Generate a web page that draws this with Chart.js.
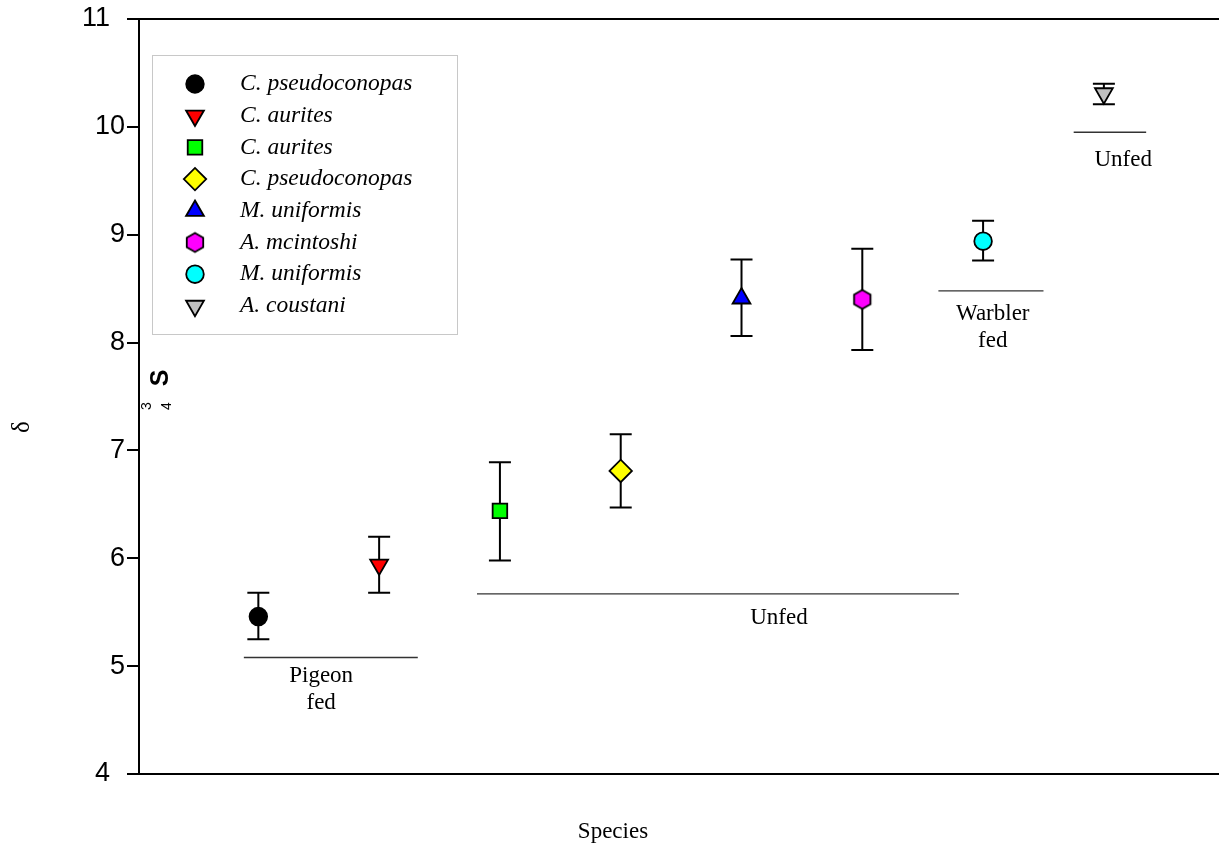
<!DOCTYPE html>
<html>
<head>
<meta charset="utf-8">
<script src="https://cdn.jsdelivr.net/npm/chart.js@4.4.1/dist/chart.umd.min.js"></script>
<style>
  html, body { margin: 0; padding: 0; background: #fff; }
  #wrap { width: 1219px; height: 847px; }
</style>
</head>
<body>
<div id="wrap"><canvas id="isoChart" width="1219" height="847"></canvas></div>
<script>
// values (delta 34S per species)
const species = ['C. pseudoconopas', 'C. aurites', 'C. aurites', 'C. pseudoconopas',
                 'M. uniformis', 'A. mcintoshi', 'M. uniformis', 'A. coustani'];
const positions = [1, 2, 3, 4, 5, 6, 7, 8];
const means = [5.46, 5.94, 6.44, 6.81, 8.41, 8.40, 8.94, 10.31];
const lows  = [5.25, 5.68, 5.98, 6.47, 8.06, 7.93, 8.76, 10.21];
const highs = [5.68, 6.20, 6.89, 7.15, 8.77, 8.87, 9.13, 10.40];
const yTicks = [4, 5, 6, 7, 8, 9, 10, 11];

// feeding groups: bracket line + label
const groupNames = [['Pigeon', 'fed'], ['Unfed'], ['Warbler', 'fed'], ['Unfed']];
const groupStart = [0.88, 2.81, 6.63, 7.75];
const groupEnd   = [2.32, 6.80, 7.50, 8.35];
const groupLevel = [5.08, 5.67, 8.48, 9.95];
const groupLabelX = [1.52, 5.31, 7.08, 8.16];
const groupLabelY = [4.78, 5.45, 8.14, 9.69];

// marker styles
function makeHexagon(r, fill) {
    const c = document.createElement('canvas');
    c.width = 26; c.height = 26;
    const g = c.getContext('2d');
    g.beginPath();
    for (let i = 0; i < 6; i++) {
        const a = Math.PI / 2 + i * Math.PI / 3;
        const px = 13 + r * Math.cos(a), py = 13 - r * Math.sin(a);
        if (i === 0) g.moveTo(px, py); else g.lineTo(px, py);
    }
    g.closePath();
    g.fillStyle = fill;
    g.fill();
    g.lineWidth = 1.8;
    g.strokeStyle = '#000';
    g.stroke();
    return c;
}
const hexMarker = makeHexagon(9.5, '#ff00ff');
const markerStyles = ['circle', 'triangle', 'rect', 'rectRot', 'triangle', hexMarker, 'circle', 'triangle'];
const markerRotation = [0, 180, 0, 0, 0, 0, 0, 180];
const markerColors = ['#000000', '#ff0000', '#00ff00', '#ffff00', '#0000ff', '#ff00ff', '#00ffff', '#c0c0c0'];
const markerRadius = [8.8, 10.3, 10.3, 11.2, 10.3, 9.5, 8.8, 10.3];

const serif = "'Liberation Serif', 'Times New Roman', serif";
const sans = "'Liberation Sans', Arial, sans-serif";

const pointSets = species.map((name, i) => ({
    label: name,
    data: [{ x: positions[i], y: means[i] }],
    pointStyle: markerStyles[i],
    rotation: markerRotation[i],
    backgroundColor: markerColors[i],
    borderColor: '#000',
    borderWidth: 1.8,
    pointRadius: markerRadius[i],
    pointHoverRadius: markerRadius[i],
    isSpecies: true,
    order: 0
}));

const groupSets = groupNames.map((g, i) => ({
    label: 'group' + i,
    data: [{ x: groupStart[i], y: groupLevel[i] }, { x: groupEnd[i], y: groupLevel[i] }],
    showLine: true,
    borderColor: '#333',
    borderWidth: 1.3,
    pointRadius: 0,
    pointHoverRadius: 0,
    order: 1
}));

// error bars, drawn under the markers
const errorBars = {
    id: 'errorBars',
    beforeDatasetsDraw(chart) {
        const ctx = chart.ctx, xs = chart.scales.x, ys = chart.scales.y;
        ctx.save();
        ctx.strokeStyle = '#000';
        ctx.lineWidth = 2;
        for (let i = 0; i < positions.length; i++) {
            const x = xs.getPixelForValue(positions[i]);
            const yl = ys.getPixelForValue(lows[i]);
            const yh = ys.getPixelForValue(highs[i]);
            ctx.beginPath();
            ctx.moveTo(x, yl); ctx.lineTo(x, yh);
            ctx.moveTo(x - 11, yl); ctx.lineTo(x + 11, yl);
            ctx.moveTo(x - 11, yh); ctx.lineTo(x + 11, yh);
            ctx.stroke();
        }
        ctx.restore();
    }
};

// group labels, legend box and axis titles
const annotations = {
    id: 'annotations',
    afterDraw(chart) {
        const ctx = chart.ctx, xs = chart.scales.x, ys = chart.scales.y;
        ctx.save();
        ctx.fillStyle = '#000';
        ctx.textAlign = 'center';
        ctx.textBaseline = 'middle';
        ctx.font = '23px ' + serif;
        groupNames.forEach((lines, i) => {
            const cx = xs.getPixelForValue(groupLabelX[i]);
            const cy = ys.getPixelForValue(groupLabelY[i]);
            const lh = 27;
            lines.forEach((t, k) => {
                ctx.fillText(t, cx, cy + (k - (lines.length - 1) / 2) * lh);
            });
        });

        // legend
        ctx.strokeStyle = '#c8c8c8';
        ctx.lineWidth = 1;
        ctx.strokeRect(152.5, 55.5, 305, 279);
        const sets = chart.data.datasets.filter(d => d.isSpecies);
        sets.forEach((d, k) => {
            const y = 84 + k * 31.7;
            ctx.fillStyle = d.backgroundColor;
            ctx.strokeStyle = '#000';
            ctx.lineWidth = d.borderWidth;
            Chart.helpers.drawPoint(ctx, {
                pointStyle: d.pointStyle,
                rotation: d.rotation,
                radius: d.pointRadius,
                borderWidth: d.borderWidth
            }, 195, y);
            ctx.fillStyle = '#000';
            ctx.textAlign = 'left';
            ctx.font = 'italic 23.5px ' + serif;
            ctx.fillText(d.label, 240, y);
        });

        // x title
        ctx.textAlign = 'center';
        ctx.font = '23px ' + serif;
        ctx.fillText('Species', 613, 832);

        // y title, pieces scattered as in the original
        const rot = (txt, font, x, y) => {
            ctx.save();
            ctx.translate(x, y);
            ctx.rotate(-Math.PI / 2);
            ctx.font = font;
            ctx.textAlign = 'center';
            ctx.textBaseline = 'middle';
            ctx.fillText(txt, 0, 0);
            ctx.restore();
        };
        rot('\u03b4', '25px ' + serif, 22, 427);
        rot('S', 'bold 25px ' + sans, 161, 378);
        rot('3', '14px ' + sans, 147, 406);
        rot('4', '14px ' + sans, 167, 406);
        ctx.restore();
    }
};

const ctx = document.getElementById('isoChart').getContext('2d');
const chart = new Chart(ctx, {
    type: 'scatter',
    data: { datasets: [...groupSets, ...pointSets] },
    options: {
        responsive: false,
        animation: false,
        devicePixelRatio: 1,
        layout: { autoPadding: false, padding: { top: 19, left: 0, right: 0, bottom: 0 } },
        plugins: {
            legend: { display: false },
            tooltip: { enabled: false }
        },
        scales: {
            x: {
                type: 'linear',
                position: 'bottom',
                min: 0.012,
                max: 8.953,
                grid: { display: false },
                ticks: { display: false },
                border: { color: '#000', width: 2 },
                afterFit: s => { s.height = 73; }
            },
            x2: {
                type: 'linear',
                position: 'top',
                min: 0.012,
                max: 8.953,
                grid: { display: false },
                ticks: { display: false },
                border: { color: '#000', width: 2 },
                afterFit: s => { s.height = 0; }
            },
            y: {
                type: 'linear',
                min: yTicks[0],
                max: yTicks[yTicks.length - 1],
                afterBuildTicks: s => { s.ticks = yTicks.map(v => ({ value: v })); },
                ticks: {
                    color: '#000',
                    padding: 2,
                    font: { family: sans, size: 27 },
                    callback: v => (v === 11 || v === 4) ? v + '\u00a0\u00a0' : String(v)
                },
                grid: {
                    display: true,
                    drawOnChartArea: false,
                    drawTicks: true,
                    tickLength: 12,
                    color: '#000',
                    lineWidth: 2
                },
                border: { color: '#000', width: 2 },
                afterFit: s => { s.width = 139; }
            }
        }
    },
    plugins: [errorBars, annotations]
});
</script>
</body>
</html>
